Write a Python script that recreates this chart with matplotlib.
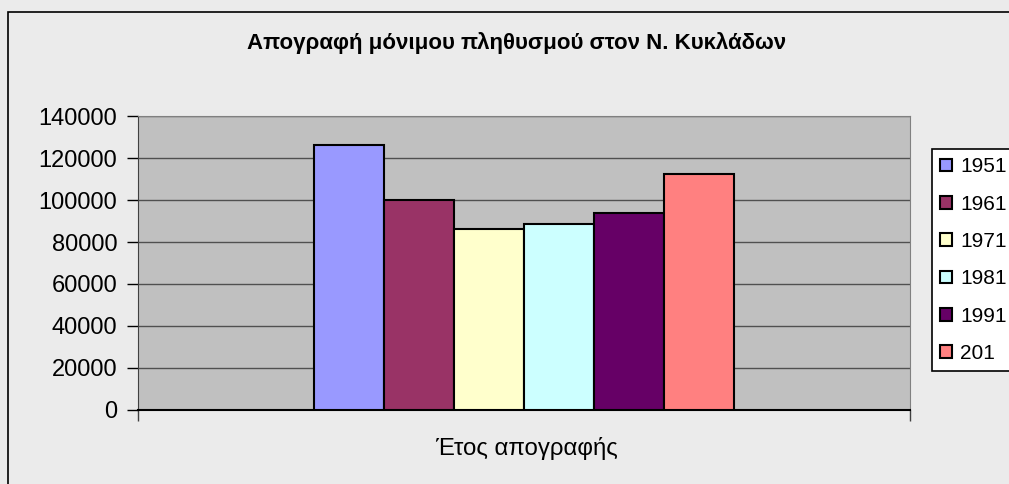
import numpy as np
import matplotlib
matplotlib.use('Agg')
import matplotlib.pyplot as plt
from matplotlib.patches import Rectangle

plt.rcParams['font.family'] = ['Liberation Sans', 'DejaVu Sans']

title       = "Απογραφή μόνιμου πληθυσμού στον Ν. Κυκλάδων"
xlabel      = "Έτος απογραφής"
years       = ["1951", "1961", "1971", "1981", "1991", "201"]
population  = [125959, 99959, 86337, 88458, 94005, 112615]
colors      = ["#9999FF", "#993366", "#FFFFCC", "#CCFFFF", "#660066", "#FF8080"]
yticks      = [0, 20000, 40000, 60000, 80000, 100000, 120000, 140000]

W, H = 1009, 484
fig = plt.figure(figsize=(W/100, H/100), dpi=100)
fig.patch.set_facecolor('#EBEBEB')

# outer chart frame (cut off on right/bottom)
fig.add_artist(Rectangle((8/W, -0.1), 1.5, (H-12)/H + 0.1, transform=fig.transFigure,
                         fill=False, ec='black', lw=1.2))

ax = fig.add_axes([138/W, (H-410)/H, 772/W, 294/H])
ax.set_facecolor('#C0C0C0')

# bars side by side in one category
bw = 70/772
for i in range(len(years)):
    ax.bar(0.5 + (i - 2.5)*bw, population[i], width=bw, color=colors[i],
           edgecolor='black', linewidth=1.5, label=years[i], zorder=3)

ax.set_xlim(0, 1)
ax.set_ylim(0, 140000)
ax.set_yticks(yticks)
ax.set_yticklabels([str(v) for v in yticks], fontsize=17)
ax.set_xticks([0, 1])
ax.set_xticklabels([])
ax.yaxis.grid(True, color='#505050', linewidth=1, zorder=1)
ax.tick_params(axis='y', direction='out', length=8, width=1, pad=7, colors='black')
ax.tick_params(axis='x', direction='out', length=8, width=1, colors='#404040')

ax.spines['left'].set_color('#404040')
ax.spines['bottom'].set_color('black')
ax.spines['bottom'].set_linewidth(1.5)
ax.spines['top'].set_color('#808080')
ax.spines['right'].set_color('#808080')

fig.text(517/W, 1 - 43/H, title, ha='center', va='center', fontsize=16, fontweight='bold')
fig.text(526/W, 1 - 448/H, xlabel, ha='center', va='center', fontsize=17.3)

leg = ax.legend(loc='upper left', bbox_to_anchor=(932/W, 1 - 149/H),
                bbox_transform=fig.transFigure, borderaxespad=0, fontsize=15,
                handlelength=0.55, handleheight=0.55, handletextpad=0.4,
                labelspacing=0.88, borderpad=0.4, fancybox=False, framealpha=1)
leg.get_frame().set_edgecolor('black')
leg.get_frame().set_linewidth(1.2)

plt.savefig('out.png', dpi=100, facecolor=fig.get_facecolor())
